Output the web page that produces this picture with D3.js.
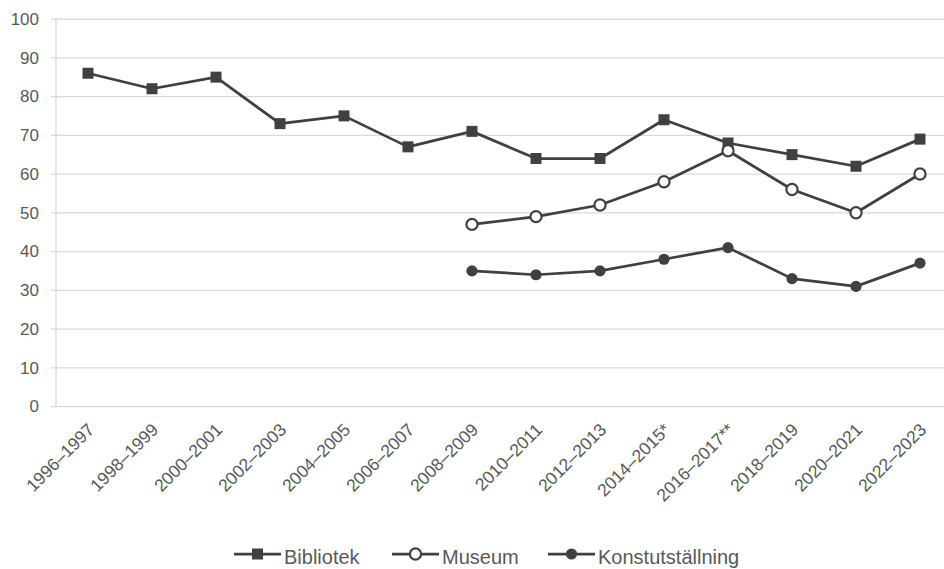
<!DOCTYPE html>
<html>
<head>
<meta charset="utf-8">
<script src="https://cdn.jsdelivr.net/npm/d3@7"></script>
<style>
  body { margin: 0; background: #fff; }
  svg { display: block; font-family: Arial, "Liberation Sans", sans-serif; }
</style>
</head>
<body>
<svg width="944" height="569"></svg>
<script>
// periods along the x axis
const periods = ['1996–1997', '1998–1999', '2000–2001', '2002–2003', '2004–2005', '2006–2007',
  '2008–2009', '2010–2011', '2012–2013', '2014–2015*', '2016–2017**', '2018–2019', '2020–2021', '2022–2023'];
const bibliotek = [86, 82, 85, 73, 75, 67, 71, 64, 64, 74, 68, 65, 62, 69];
const museum = [null, null, null, null, null, null, 47, 49, 52, 58, 66, 56, 50, 60];
const konst = [null, null, null, null, null, null, 35, 34, 35, 38, 41, 33, 31, 37];
const yTicks = [0, 10, 20, 30, 40, 50, 60, 70, 80, 90, 100];

const svg = d3.select('svg');
const plotLeft = 56, plotRight = 952, plotTop = 19, plotBottom = 406.5;
const ink = '#404040', textCol = '#595959', grid = '#d9d9d9';

const x = d3.scalePoint().domain(periods).range([plotLeft, plotRight]).padding(0.5);
const y = d3.scaleLinear().domain([0, 100]).range([plotBottom, plotTop]);

// gridlines + y labels
const yAxis = svg.append('g');
yAxis.selectAll('line').data(yTicks).enter().append('line')
  .attr('x1', plotLeft - 5).attr('x2', 944)
  .attr('y1', d => y(d)).attr('y2', d => y(d))
  .style('stroke', grid).style('stroke-width', 1.25);
yAxis.selectAll('text').data(yTicks).enter().append('text')
  .attr('x', 39).attr('y', d => y(d)).attr('dy', '0.35em')
  .attr('text-anchor', 'end')
  .style('font-size', '17px').style('fill', textCol)
  .text(d => d);

svg.append('line')
  .attr('x1', plotLeft).attr('x2', plotLeft).attr('y1', plotTop).attr('y2', plotBottom)
  .style('stroke', grid).style('stroke-width', 1.25);

// x labels rotated
svg.append('g').selectAll('text').data(periods).enter().append('text')
  .attr('transform', d => 'translate(' + (x(d) + 3) + ',' + (plotBottom + 20) + ') rotate(-45)')
  .attr('text-anchor', 'end').attr('dy', '0.35em')
  .style('font-size', '17.5px').style('fill', textCol)
  .text(d => d);

const line = d3.line()
  .defined(d => d.v !== null)
  .x(d => x(d.p)).y(d => y(d.v));

function series(vals) {
  return periods.map((p, i) => ({ p: p, v: vals[i] }));
}

const allSeries = [
  { name: 'Bibliotek', data: series(bibliotek), marker: 'square' },
  { name: 'Museum', data: series(museum), marker: 'open' },
  { name: 'Konstutställning', data: series(konst), marker: 'dot' }
];

function drawMarker(g, type, cx, cy) {
  if (type === 'square') {
    g.append('rect').attr('x', cx - 5.5).attr('y', cy - 5.5).attr('width', 11).attr('height', 11)
      .style('fill', ink);
  } else if (type === 'open') {
    g.append('circle').attr('cx', cx).attr('cy', cy).attr('r', 5.6)
      .style('fill', '#fff').style('stroke', ink).style('stroke-width', 2.2);
  } else {
    g.append('circle').attr('cx', cx).attr('cy', cy).attr('r', 5.6).style('fill', ink);
  }
}

allSeries.forEach(function(s) {
  const g = svg.append('g');
  g.append('path').datum(s.data).attr('d', line)
    .style('fill', 'none').style('stroke', ink).style('stroke-width', 2.75)
    .style('stroke-linejoin', 'round');
  s.data.filter(d => d.v !== null).forEach(d => drawMarker(g, s.marker, x(d.p), y(d.v)));
});

// legend
const legendX = [234, 392, 548];
allSeries.forEach(function(s, i) {
  const g = svg.append('g');
  const lx = legendX[i], ly = 554;
  g.append('line').attr('x1', lx).attr('x2', lx + 47).attr('y1', ly).attr('y2', ly)
    .style('stroke', ink).style('stroke-width', 2.75);
  drawMarker(g, s.marker, lx + 23.5, ly);
  g.append('text').attr('x', lx + 50).attr('y', 564)
    .style('font-size', '20px').style('fill', textCol)
    .text(s.name);
});
</script>
</body>
</html>
